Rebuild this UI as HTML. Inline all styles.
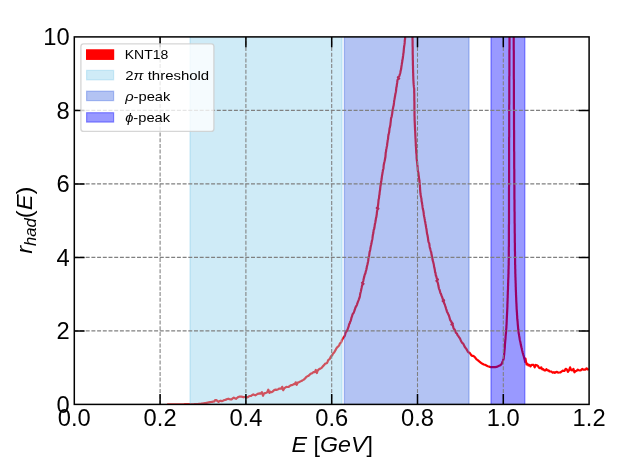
<!DOCTYPE html>
<html><head><meta charset="utf-8"><title>r_had(E)</title>
<style>
html,body{margin:0;padding:0;background:#fff;}
body{width:620px;height:465px;overflow:hidden;font-family:"Liberation Sans",sans-serif;}
svg{display:block;}
text{font-family:"Liberation Sans",sans-serif;fill:#000;}
</style></head><body>
<svg width="620" height="465" viewBox="0 0 620 465">
<rect width="620" height="465" fill="#fff"/>
<defs><clipPath id="ax"><rect x="74.3" y="36.9" width="514.8" height="367.5"/></clipPath></defs>

<g clip-path="url(#ax)">
<path d="M167.1,404.5 168.2,404.5 169.3,404.5 170.4,404.5 171.5,404.5 172.6,404.5 173.7,404.5 174.8,404.5 175.9,404.5 177,404.5 178.1,404.5 179.2,404.5 180.3,404.5 181.4,404.5 182.5,404.5 183.6,404.5 184.7,404.4 185.8,404.4 186.9,404.4 188,404.4 189.1,404.4 190.2,404.4 191.3,404.4 192.4,404.3 193.5,404.3 194.6,404.2 195.7,404.1 196.8,404.1 197.9,404 199,403.9 200.1,403.8 201.2,403.7 202.3,403.5 203.3,403.3 204.4,403.2 205.5,403 206.6,402.8 207.7,402.6 208.8,402.4 209.9,402.2 210.9,402 212,401.8 213.1,401.6 214.2,401.5 215.3,400 216.4,400 217.5,401.2 218.5,401.9 219.6,401.1 220.7,400.7 221.8,401.1 222.9,400.7 224,400.1 225.1,399.9 226.2,399.6 227.2,399 228.3,398.7 229.4,399.1 230.5,399.3 231.6,399.3 232.7,398.4 233.8,397.6 234.9,398.3 236,398.8 237,398 238.1,397.1 239.2,396.7 240.3,396.7 241.4,396.7 242.5,396.9 243.6,397.3 244.6,397 245.7,396.9 246.8,397.4 247.9,397.1 249,396.3 250,396 251.1,395.9 252.2,395 253.3,394.4 254.4,395 255.4,395.3 256.5,394.6 257.6,393.9 258.7,393.6 259.7,393.4 260.8,393.6 261.9,392.1 263,395.8 264,393.6 265.1,393.1 266.2,392.7 267.3,392.2 268.3,389.7 269.4,392.9 270.5,391.7 271.5,392.2 272.6,391.6 273.7,390.5 274.7,389.8 275.8,389.6 276.9,389.8 277.9,389.4 279,388.7 280.1,388.6 281.1,388.7 282.2,386.8 283.2,390.3 284.3,388.4 285.4,387.5 286.4,386.9 287.5,387 288.5,387 289.6,386.2 290.6,385.3 291.7,385.1 292.7,384.9 293.7,384.2 294.7,384.2 295.7,382.3 296.7,384.9 297.7,382.5 298.7,382.4 299.6,381.9 300.5,381.3 301.5,381 302.4,380.4 303.3,379.9 304.3,379.3 305.2,378.3 306.1,377.2 307,376.5 308,376.1 308.9,375.5 309.9,374.4 310.9,373.6 311.8,373.5 312.8,372.6 313.8,372 314.8,372.1 315.8,369.9 316.8,373 317.7,370.6 318.7,369.5 319.6,368.9 320.4,368.6 321.3,368.1 322.1,367.3 322.8,366.4 323.6,365.6 324.3,364.8 325,363.8 325.7,363.5 326.3,363.4 327,363 327.6,361.7 328.3,360 328.9,359.5 329.6,359.2 330.2,357.9 330.9,356.4 331.5,356 332.2,355.3 332.9,353.7 333.5,353.1 334.2,352.5 334.8,351.3 335.5,350.2 336.1,348.9 336.8,347.8 337.4,347.1 338,346.6 338.7,346 339.3,345.1 339.8,343.7 340.4,343 341,342.6 341.5,341.3 342,339.8 342.5,339.1 343.1,338.2 343.6,337.4 344.2,336.8 344.7,335.9 345.2,334.3 345.7,332.4 346.2,331.6 346.6,331.4 347.1,330.7 347.5,329.8 347.9,328.5 348.3,327.3 348.7,326.4 349,324.8 349.4,323.7 349.8,323.2 350.1,321.9 350.5,321.2 350.8,320.6 351.2,318.9 351.5,317.5 351.9,316.7 352.3,315.2 352.7,314 353.1,313.6 353.5,313.1 353.9,312.2 354.3,311.1 354.8,309.7 355.2,308.4 355.6,307.2 356.1,306.5 356.5,305.8 356.9,304.8 357.3,303.7 357.7,302.4 358.1,301.3 358.5,300.4 358.8,299.6 359.1,298.7 359.4,298 359.7,297.1 360,295.5 360.2,293.9 360.5,292.7 360.7,292 360.9,291.2 361.2,289.8 361.4,288.8 361.6,288 361.8,286.7 362.1,285.6 362.3,284.9 363.5,283.8 362,282.8 363,282.1 363.3,280.9 363.6,279.2 363.9,277.9 364.2,277.1 364.5,275.6 364.8,274.4 365.1,274 365.4,273.3 365.7,271.8 366,270.7 366.3,269.8 366.6,268.6 366.8,267.1 367.1,265.8 367.3,265 367.5,264.2 367.7,263.2 367.9,262.3 368.1,261.4 368.3,260.3 368.4,258.7 368.6,257.3 368.8,256.6 369,256.1 369.2,255.3 369.4,253.7 369.6,251.9 369.8,251.4 370,250.9 370.3,249.4 370.5,247.9 370.7,246.9 370.9,245.9 371.1,245 371.3,244.2 371.5,243.3 371.7,241.9 372,240.5 372.2,239.7 372.4,238.7 372.6,237.2 372.8,235.5 373,234.3 373.2,233.8 373.4,232.5 373.6,230.6 373.8,229.6 374,229.4 374.2,228.9 374.4,227.8 374.6,226.4 374.8,224.8 375,223.7 375.1,223.4 375.3,222.5 375.5,221.4 375.7,220.3 375.9,218.7 376.1,217.6 376.3,217.4 376.4,216.6 376.6,215.2 376.8,214 376.9,212.5 377.1,211.3 377.3,209.9 378.4,208.5 376.8,208 377.8,207.3 377.9,205.9 378.1,205 378.2,203.9 378.4,202 378.5,200.5 378.6,199.6 378.8,199 378.9,198.6 379.1,197.3 379.2,195.6 379.3,195.1 379.5,194.7 379.6,192.9 379.8,191.3 379.9,190.7 380.1,189.8 380.2,188.4 380.4,186.7 380.5,185.7 380.7,185.1 380.8,183.8 381,182.5 381.1,182.1 381.3,181.3 381.5,179.7 381.7,178.5 381.8,177.4 382,175.9 382.2,174.7 382.4,173.8 382.5,172.7 382.7,171.7 382.9,170.5 383.1,169.6 383.3,169.1 383.5,168.2 383.6,166.3 383.8,164.7 384,163.7 384.2,162.7 384.4,161.9 384.5,161.4 384.7,160.9 384.9,159.7 385.1,158.5 385.2,158.2 385.4,157.1 385.6,154.6 385.7,152.6 385.9,152.1 386.1,151 386.2,149.5 386.4,148.8 386.6,148 386.7,146.9 386.9,146.3 387.1,145.4 387.2,143.9 387.4,142.6 387.6,141.3 387.7,140.1 387.9,139.5 388.1,138.5 388.2,136.7 388.4,135.3 388.6,134.6 388.8,133.6 388.9,133.1 389.1,132.6 389.3,130.9 389.5,128.9 389.6,128 389.8,127.7 390,126.8 390.2,125.8 390.4,124.8 390.5,123.3 390.7,121.8 390.9,120 391.1,118.2 391.3,117.6 391.4,117.4 391.6,116.7 391.8,115.7 392,114.6 392.2,113.6 392.3,112.5 392.5,111 392.7,109.6 392.9,108.6 393.1,108.1 393.2,107.2 393.4,106.3 393.6,105.7 393.8,104.4 394,102.9 394.1,101.5 394.3,100.1 394.5,99.2 394.7,98.1 394.9,96.8 395.1,96.1 395.2,95.1 395.4,94 395.6,93 395.8,92.3 396,91.2 396.2,89.2 396.3,87.7 396.5,87.2 396.7,86.5 396.8,85.1 397,83.8 397.2,82.5 397.4,80.8 397.6,79.7 397.9,79.2 399.2,78.5 397.9,77.3 399.3,76.2 399.6,75.2 399.9,74.1 400.2,73.3 400.4,72.3 400.6,71.1 400.8,70.3 401,69.6 401.2,68.5 401.3,67.5 401.5,66.2 401.7,64.9 401.8,64 402,63.1 402.2,61.8 402.4,60.5 402.5,59.5 402.7,59.1 402.8,58.2 403,56.5 403.2,55.2 403.3,54.2 403.4,53.3 403.6,52.5 403.7,50.8 403.9,48.7 404,47.6 404.1,47 404.2,46.1 404.4,44.9 404.5,44 404.6,43.7 404.7,42.4 404.8,40.2 405,39.3 405.1,38.9 405.1,37.7 405.2,36.2 405.3,34.7 405.4,33.9 405.5,33.6 405.6,32.8 405.7,31.2 405.7,29.7 405.8,28.8 405.9,27.9 406,26.9 406,25.7 406.1,24.3 406.2,23.2 406.2,22.1 406.3,21.6 406.3,20.5 406.3,18.9 406.4,17.7 406.4,16.7 406.4,16.2 406.5,15.2 406.5,13.8 406.6,12.7 406.6,11.3 406.6,9.8 406.7,8.8 406.7,7.8 406.7,6.8 406.7,5.7 406.8,4.7 411.7,4.2 411.7,5.3 411.7,6.2 411.7,7.2 411.8,8.8 411.8,10 411.8,11 411.8,12.3 411.9,13.5 411.9,14.2 411.9,15.2 412,16.6 412,17.4 412,17.9 412,18.9 412.1,20.3 412.1,21.4 412.1,22.7 412.2,24.2 412.2,25.5 412.2,26.8 412.3,27.6 412.3,28.3 412.3,29.3 412.4,30.6 412.4,32 412.4,33 412.4,34 412.5,35.4 412.5,36.3 412.5,36.8 412.5,37.8 412.5,39.4 412.6,40.8 412.6,41.7 412.6,42.5 412.6,43.4 412.6,44.8 412.6,46.1 412.7,47.2 412.7,48.1 412.7,49.3 412.7,50.6 412.7,51.6 412.7,52.6 412.7,54.1 412.8,55.5 412.8,56.5 412.8,57.2 412.8,57.9 412.8,58.9 412.8,60 412.9,60.7 412.9,61.9 412.9,63.7 412.9,65.1 413,65.9 413,66.3 413,67.2 413,68.6 413.1,70.2 413.1,71.4 413.1,72.3 413.2,73.2 413.2,74.7 413.2,75.9 413.3,76.7 413.3,78.1 413.4,79.9 413.4,80.6 413.5,81.3 413.5,82.4 413.6,83.3 413.7,84.7 413.9,86.7 414,87.5 414.1,87.7 414.2,89.3 414.2,90.9 414.2,91.4 414.2,92.6 414.3,93.9 414.3,94.6 414.3,95.6 414.3,96.3 414.3,97 414.3,98.6 414.3,100.1 414.4,101.8 414.4,103.3 414.4,103.9 414.4,104.4 414.4,105.6 414.4,106.9 414.4,107.8 414.4,108.2 414.4,108.7 414.4,110 414.5,111.9 414.5,113.1 414.5,113.9 414.5,114.8 414.5,115.9 414.6,117 414.6,118.2 414.6,119.8 414.7,121.4 414.7,122.2 414.8,122.7 414.8,124 414.9,125.7 414.9,126.8 415,127.8 415,129.2 415.1,130.2 415.1,130.4 415.2,131 415.2,132.2 415.3,133.8 415.3,135 415.4,135.7 415.4,137 415.5,138.5 415.6,139.5 415.6,140.6 415.7,141.9 415.7,142.4 415.8,143.7 415.8,145.7 415.9,146.4 416,146.8 416,147.9 416.1,149.4 416.2,151 416.2,152.2 416.3,153 416.4,153.5 416.5,154.3 416.6,156.1 416.6,158 416.7,158.9 416.8,159.6 416.9,160.6 417,161.5 417.1,162.2 417.2,163.1 417.3,164.4 417.5,165.8 417.6,167.1 417.7,168.7 417.8,170.3 417.9,171.1 418.1,171.3 418.2,171.9 418.4,172.9 418.5,174.1 418.7,175.6 418.9,177 419,178.1 419.2,179.1 419.3,180.1 419.4,181 419.6,182.2 419.7,184.1 419.8,185 419.9,185.2 419.9,186 420,187.3 420.1,189 420.2,190.6 420.3,191.9 420.4,192.9 420.5,194 420.7,195.1 420.8,196 421,196.8 421.1,197.2 421.3,197.9 421.5,199.7 421.6,201.4 421.8,201.9 422,202.8 422.2,204.4 422.4,205.3 422.5,206.4 422.7,208 422.9,209.1 423.1,209.8 423.3,210.6 423.5,211.8 423.7,213.1 423.8,214.4 424,215.8 424.2,216.7 424.4,217.5 424.5,218.2 424.7,219.1 424.9,220.5 425.1,221.7 425.3,222.3 425.4,223.2 425.6,224.3 425.8,225.3 426,226.8 426.2,227.9 426.4,228.7 426.6,230.1 426.8,231.8 427,233.1 427.1,233.9 427.3,234.5 427.5,235.3 427.7,236.5 428,238.3 428.2,240.1 428.4,241.2 428.6,242.1 428.8,242.5 429,242.7 429.3,243.7 429.5,245.3 429.7,247 430,248.2 430.2,248.5 430.4,249.5 430.7,250.7 430.9,251.4 431.2,252.2 431.4,253.6 431.6,254.9 431.9,256 432.1,257.3 432.4,258.5 432.6,259.8 432.8,260.9 433,261.2 433.2,262 433.5,263.3 433.7,264.1 433.9,265.1 434.1,266.6 434.3,267.6 434.5,268.3 434.8,269.7 435,271.5 435.2,272.4 435.5,272.9 435.7,274.6 435.9,275.7 436.2,275.9 436.4,276.8 436.7,278.3 437.9,279.6 436.4,280.8 437.5,282 437.8,282.9 438.1,284 438.3,285.3 438.6,286.8 438.9,288.3 439.2,289.2 439.5,289.6 439.8,290.7 440.2,292.3 440.5,293.2 440.8,293.5 441.1,294.3 441.4,295.4 441.8,296.3 442.1,297 442.4,297.9 442.8,299.2 444.1,300.3 442.7,301 443.9,302.1 444.2,303.4 444.6,304.1 445,305 445.3,306.1 445.7,307.4 446.1,308.8 446.5,309.9 446.9,311.4 447.3,312.4 447.7,312.8 448.1,313.8 448.5,314.8 448.9,315.6 449.3,316.8 449.7,318.2 450.1,319.7 450.5,320.6 451,321 451.4,322 452.8,323.7 451.4,324.4 452.7,324.9 453.1,326.4 453.5,327.9 454,328.9 454.5,329.3 454.9,330 455.4,331.4 455.9,332.8 456.4,333.1 456.9,333.5 457.4,334.8 457.9,335.6 458.5,336.3 459,337.2 459.6,337.9 460.2,339 460.7,340.2 461.3,341.5 462,342.6 462.6,343.2 463.3,343.8 464,345.2 464.7,346.8 465.4,347.7 466,348.4 466.6,349.4 467.3,350.6 467.9,351.8 468.6,352.5 469.3,352.6 470,353.3 470.8,354.5 471.6,355.5 472.4,355.9 473.2,355.9 474,356.4 474.8,357.1 475.7,358.3 476.5,359.3 477.4,359.9 478.3,360.6 479.2,361.4 480.1,362.1 481,362.8 481.9,363.5 482.9,364 483.8,364.5 484.8,364.8 485.8,365.1 486.8,365.8 487.8,366.2 488.8,366.5 489.9,366.9 491,367.1 492.1,367 493.2,367.1 494.3,367.2 495.3,367.1 496.5,366.9 497.6,366.4 498.6,366 499.6,365.6 500.3,365.2 501,364.7 501.7,363.9 502.2,362.5 502.8,361.1 503.2,360 503.5,359.2 503.7,358.6 503.8,357.4 504,355.9 504.1,354.9 504.2,354.1 504.3,352.9 504.4,351.7 504.5,350.5 504.6,349.7 504.7,348.7 504.8,347.3 504.9,345.9 504.9,344.8 505,343.8 505.1,342.8 505.2,341.6 505.3,340.5 505.4,339.6 505.5,338.4 505.6,336.7 505.7,335.4 505.8,334.4 505.9,333.4 506,332.4 506.1,331.7 506.1,330.7 506.2,329.4 506.3,328.3 506.4,327.3 506.4,326.3 506.5,325.2 506.6,324 506.6,322.8 506.7,321.7 506.7,320.5 506.8,319 506.8,317.9 506.9,317.2 506.9,316.2 507,315.2 507,314.2 507.1,313.2 507.1,312.3 507.2,311.2 507.2,309.9 507.3,309 507.3,308.3 507.4,306.7 507.4,305.1 507.4,304.3 507.5,303.2 507.5,301.8 507.6,300.8 507.6,299.7 507.6,298.7 507.7,297.7 507.7,296.5 507.7,295.4 507.8,294.2 507.8,293.1 507.8,292 507.9,291.2 507.9,290.4 508,289 508,287.5 508,286.4 508.1,285.4 508.1,284.4 508.1,283.4 508.2,282.3 508.2,281.1 508.2,280 508.3,279.2 508.3,278.1 508.4,276.8 508.4,275.6 508.4,274.7 508.5,273.9 508.5,272.7 508.5,271.2 508.5,269.9 508.6,268.6 508.6,267.6 508.6,266.8 508.6,266.1 508.7,265 508.7,263.5 508.7,262.2 508.7,261.3 508.7,260.3 508.8,259.3 508.8,258.3 508.8,257.3 508.8,256.2 508.8,255 508.8,253.8 508.8,252.7 508.8,251.5 508.8,250.6 508.8,249.8 508.8,248.4 508.8,247 508.9,246.3 508.9,245.4 508.9,244.2 508.9,242.9 508.9,241.7 508.9,240.4 508.9,239.4 508.9,238.5 508.9,237.2 508.9,235.9 508.9,235 508.9,234.4 508.9,233.2 508.9,231.7 508.9,230.6 508.9,229.7 508.9,228.5 508.9,227.1 508.9,226.2 508.9,225.1 509,223.8 509,222.8 509,222.1 509,221.2 509,219.9 509,218.5 509,217.3 509,216.4 509,215.3 509,213.8 509,212.8 509,211.8 509,210.4 509,209.5 509,208.5 509,207.1 509,206.1 509,205.4 509,204.3 509,203 509,202.1 509,201.2 509,200.3 509,199.2 509,197.9 509,196.4 509,194.9 509,193.6 509,192.7 509,192 509,191 509,189.5 509,188.3 509,187.1 509.1,186.2 509.1,185.7 509.1,184.8 509.1,183.8 509.1,182.6 509.1,180.8 509.1,179.7 509.1,179.1 509.1,177.8 509.1,176.5 509.1,175.6 509.1,174.5 509.1,173.2 509.1,172.1 509.1,171.2 509.1,170.2 509.1,169.1 509.1,167.9 509.1,166.7 509.1,165.8 509.1,164.9 509.1,163.8 509.1,162.4 509.1,161.1 509.1,160.1 509.1,159.1 509.1,157.9 509.1,156.7 509.1,155.6 509.1,154.8 509.1,153.6 509.1,152.2 509.1,150.9 509.1,150 509.1,149.3 509.1,148 509.1,146.5 509.1,145.7 509.1,145.2 509.1,144.4 509.1,143 509.1,141.4 509.1,140.5 509.1,139.6 509.1,138.2 509.2,136.8 509.2,135.6 509.2,134.6 509.2,134 509.2,133 509.2,131.8 509.2,130.8 509.2,129.9 509.2,128.8 509.2,127.3 509.2,125.9 509.2,124.8 509.2,124 509.2,122.6 509.2,121.2 509.2,120.3 509.2,119.6 509.2,118.7 509.2,117.5 509.2,116 509.2,114.8 509.2,113.7 509.2,112.5 509.2,111.7 509.2,110.8 509.2,109.5 509.2,108 509.2,107.1 509.2,106.3 509.2,105.2 509.3,104.2 509.3,103.2 509.3,101.8 509.3,100.5 509.3,99.5 509.3,98.4 509.3,97.4 509.3,96.3 509.3,95.1 509.3,94 509.3,92.8 509.3,91.6 509.3,90.6 509.3,89.4 509.3,88.1 509.3,87.3 509.3,86.3 509.3,85 509.3,83.8 509.3,83.2 509.3,82.4 509.3,81.3 509.3,79.9 509.3,78.5 509.3,77.5 509.3,76.6 509.4,75.8 509.4,74.6 509.4,73.2 509.4,71.8 509.4,70.6 509.4,69.8 509.4,69.1 509.4,68 509.4,66.6 509.4,65.3 509.4,64.4 509.4,63.5 509.4,62.8 509.4,61.9 509.4,60.6 509.4,59.2 509.4,58 509.4,57.3 509.4,56.2 509.4,54.8 509.4,53.4 509.4,52.1 509.4,51 509.4,50 509.5,49.1 509.5,48.2 509.5,47.3 509.5,46.1 509.5,44.8 509.5,43.9 509.5,42.9 509.5,41.6 509.5,40.3 509.5,38.8 509.5,37.7 509.5,37 509.5,36.3 509.5,35.8 509.5,34.5 509.5,32.4 509.5,31 509.5,30.4 509.5,29.8 509.5,28.7 509.5,27.1 509.5,25.6 509.6,24.2 509.6,22.9 509.6,22 509.6,21.6 509.6,20.6 509.6,19.2 509.6,18.4 509.6,17.6 509.6,16.3 509.6,15 509.6,14.1 509.6,13 509.6,11.7 509.6,10.4 509.6,9.3 509.6,8.3 509.6,7.3 509.6,6.6 509.6,5.6 509.7,4.6 513.6,4.7 513.6,5.5 513.6,6.8 513.6,8.3 513.6,9.3 513.6,9.9 513.6,10.6 513.6,11.6 513.6,13 513.6,14.2 513.6,15 513.6,16.1 513.6,17.3 513.6,18.1 513.6,19.2 513.6,20.9 513.6,22.3 513.6,23.5 513.6,24.8 513.6,26 513.7,26.9 513.7,27.9 513.7,29.4 513.7,30.6 513.7,31.3 513.7,32 513.7,32.9 513.7,33.7 513.7,34.7 513.7,35.7 513.7,37.2 513.7,38.8 513.7,40 513.7,41.2 513.7,42.1 513.7,43 513.7,44.1 513.7,45.3 513.7,46.5 513.7,47.9 513.7,49.1 513.7,49.8 513.8,50.6 513.8,52 513.8,53.4 513.8,54.4 513.8,55.4 513.8,56.6 513.8,57.4 513.8,58.1 513.8,59.7 513.8,61.1 513.8,61.9 513.8,62.8 513.8,64 513.8,65 513.8,65.9 513.8,67.2 513.8,68.6 513.8,69.9 513.8,70.8 513.8,71.7 513.8,72.8 513.8,74 513.8,75.1 513.8,76.1 513.8,76.9 513.8,77.8 513.8,78.9 513.9,79.9 513.9,81.2 513.9,82.4 513.9,83.2 513.9,84.4 513.9,85.9 513.9,87 513.9,87.9 513.9,88.8 513.9,89.9 513.9,91.4 513.9,92.9 513.9,93.7 513.9,94.4 513.9,95.8 513.9,97.3 513.9,98.2 513.9,98.9 513.9,100.3 513.9,101.7 513.9,102.5 513.9,103.4 513.9,104.3 513.9,105.3 513.9,106.7 513.9,108.3 514,109.3 514,110 514,110.9 514,111.8 514,112.9 514,114.6 514,116.3 514,117.2 514,118.1 514,119.3 514,120.4 514,121.2 514,122.1 514,123.3 514,124.7 514,125.9 514,126.5 514,127.4 514,128.9 514,129.8 514.1,130.5 514.1,131.6 514.1,132.8 514.1,134.1 514.1,135.6 514.1,136.8 514.1,137.7 514.1,138.7 514.1,139.8 514.1,141.3 514.1,142.5 514.1,143.1 514.1,144.3 514.1,145.9 514.1,146.8 514.1,147.2 514.1,148.1 514.1,149.6 514.1,151 514.2,151.9 514.2,152.9 514.2,154.1 514.2,155.5 514.2,156.6 514.2,157.3 514.2,158.3 514.2,159.5 514.2,160.4 514.2,161.6 514.2,163 514.2,164.3 514.2,165.5 514.2,166.6 514.2,167.5 514.2,168.5 514.3,169.5 514.3,170.6 514.3,171.8 514.3,172.7 514.3,173.7 514.3,175.2 514.3,176.2 514.3,176.7 514.3,177.7 514.3,179.3 514.3,180.8 514.3,182.1 514.3,183.1 514.3,184 514.3,184.9 514.4,185.8 514.4,187.1 514.4,188.4 514.4,189.3 514.4,190.3 514.4,191.6 514.4,192.9 514.4,194 514.4,194.9 514.4,196 514.4,196.8 514.4,197.7 514.4,199 514.5,200.2 514.5,201.4 514.5,202.6 514.5,204 514.5,205.3 514.5,206.2 514.5,207 514.5,208.2 514.5,209.3 514.5,210.1 514.5,211 514.6,212.1 514.6,213.6 514.6,214.9 514.6,216 514.6,216.9 514.6,218 514.6,219 514.6,220.3 514.6,221.8 514.6,222.9 514.7,223.9 514.7,224.6 514.7,225.5 514.7,226.6 514.7,227.9 514.7,228.8 514.7,229.6 514.7,230.9 514.7,232 514.7,232.7 514.8,234 514.8,235.6 514.8,236.8 514.8,237.5 514.8,238.6 514.8,240.3 514.8,241.6 514.8,242.3 514.9,243.1 514.9,244.5 514.9,245.7 514.9,246.6 514.9,247.5 514.9,248.7 514.9,249.9 514.9,250.9 515,251.8 515,252.6 515,253.8 515,255.6 515,257 515,258.1 515.1,259 515.1,259.8 515.1,260.8 515.1,262 515.1,263.2 515.1,264.4 515.2,265 515.2,266 515.2,267.2 515.2,268.4 515.3,269.5 515.3,270.5 515.3,272 515.3,273.3 515.4,274.4 515.4,275.8 515.4,277 515.5,277.7 515.5,278.7 515.5,279.8 515.6,280.7 515.6,281.6 515.6,282.7 515.7,283.9 515.7,285.1 515.7,286.4 515.8,287.5 515.8,288.4 515.8,289.5 515.9,290.6 515.9,291.7 516,293 516,294 516,294.8 516.1,295.7 516.1,296.9 516.2,297.9 516.2,299.3 516.3,301 516.3,302.1 516.4,302.6 516.4,303.4 516.5,304.7 516.5,305.9 516.6,306.9 516.6,308 516.7,309.5 516.8,310.7 516.8,311.2 516.9,312.1 517,313.5 517,314.6 517.1,315.5 517.2,316.7 517.2,317.9 517.3,319 517.4,320 517.5,320.8 517.6,321.7 517.7,323.2 517.8,324.6 517.9,325.6 518,326.6 518.1,327.8 518.2,328.8 518.3,329.8 518.5,331 518.6,332.6 518.8,333.9 519,334.5 519.1,335.4 519.3,336.6 519.5,337.8 519.7,339.2 519.9,340.3 520.1,341.1 520.3,341.9 520.5,342.9 520.7,344.1 520.9,345.1 521.2,346.2 521.4,347.3 521.7,348.2 521.9,349.3 522.2,350.7 522.5,351.8 522.7,352.8 523,353.8 523.3,354.8 523.7,356 524,357.3 524.3,358.5 524.7,359.6 525.1,361.9 525.5,358.7 526,361.6 526.6,364.5 527.5,363.9 528.4,365.4 529.5,364.9 530.5,366.4 531.6,364.8 532.6,364.8 533.6,364.9 534.7,367.4 535.8,364.9 536.8,365.3 537.9,365.9 539,367.8 540.1,368.3 541.2,367.3 542.2,369.3 543.3,369.1 544.3,370.4 545.3,370.5 546.4,369.2 547.4,370.4 548.5,370.4 549.5,371.4 550.6,371.5 551.6,371.7 552.7,372.7 553.8,372.2 554.8,372.9 555.9,372.1 557,371.8 558.1,372.6 559.2,372.5 560.3,372.5 561.4,371.7 562.5,370.7 563.6,370.9 564.6,370.8 565.7,368.8 566.8,369.4 567.9,371.9 569,370.3 570.1,367.4 571.2,370.1 572.3,370.3 573.4,368.8 574.5,372.3 575.6,371.1 576.7,370.7 577.8,369.6 578.9,370.2 580,370.5 581.1,370.1 582.2,368.9 583.3,369.7 584.4,369.5 585.5,369.6 586.6,368.3 587.7,369.5 588.8,369.2" fill="none" stroke="#ff0000" stroke-width="2.2" stroke-linejoin="round"/>
<rect x="190.1" y="31.9" width="151.9" height="377.5" fill="#87ceeb" fill-opacity="0.4" stroke="#87ceeb" stroke-opacity="0.4" stroke-width="1.35"/>
<rect x="344.4" y="31.9" width="124.6" height="377.5" fill="#4169e1" fill-opacity="0.4" stroke="#4169e1" stroke-opacity="0.4" stroke-width="1.35"/>
<rect x="491.0" y="31.9" width="33.8" height="377.5" fill="#0000ff" fill-opacity="0.4" stroke="#0000ff" stroke-opacity="0.4" stroke-width="1.35"/>
<g stroke="#808080" stroke-width="1.08" stroke-dasharray="3.98 1.72" fill="none">
<path d="M160.1,404.4V36.9"/>
<path d="M245.9,404.4V36.9"/>
<path d="M331.7,404.4V36.9"/>
<path d="M417.5,404.4V36.9"/>
<path d="M503.3,404.4V36.9"/>
<path d="M74.3,330.9H589.1"/>
<path d="M74.3,257.4H589.1"/>
<path d="M74.3,183.9H589.1"/>
<path d="M74.3,110.4H589.1"/>
</g>
</g>
<g stroke="#000" stroke-width="1.5" fill="none">
<path d="M160.1,404.4v-10.3M160.1,36.9v10.3"/>
<path d="M245.9,404.4v-10.3M245.9,36.9v10.3"/>
<path d="M331.7,404.4v-10.3M331.7,36.9v10.3"/>
<path d="M417.5,404.4v-10.3M417.5,36.9v10.3"/>
<path d="M503.3,404.4v-10.3M503.3,36.9v10.3"/>
<path d="M74.3,330.9h10.3M589.1,330.9h-10.3"/>
<path d="M74.3,257.4h10.3M589.1,257.4h-10.3"/>
<path d="M74.3,183.9h10.3M589.1,183.9h-10.3"/>
<path d="M74.3,110.4h10.3M589.1,110.4h-10.3"/>
</g>
<rect x="74.3" y="36.9" width="514.8" height="367.5" fill="none" stroke="#000" stroke-width="1.5"/>
<g opacity="0.999">
<text transform="translate(74.3,425.7) scale(1.010,1)" font-size="23.5" text-anchor="middle">0.0</text>
<text transform="translate(160.1,425.7) scale(1.010,1)" font-size="23.5" text-anchor="middle">0.2</text>
<text transform="translate(245.9,425.7) scale(1.010,1)" font-size="23.5" text-anchor="middle">0.4</text>
<text transform="translate(331.7,425.7) scale(1.010,1)" font-size="23.5" text-anchor="middle">0.6</text>
<text transform="translate(417.5,425.7) scale(1.010,1)" font-size="23.5" text-anchor="middle">0.8</text>
<text transform="translate(503.3,425.7) scale(1.010,1)" font-size="23.5" text-anchor="middle">1.0</text>
<text transform="translate(589.1,425.7) scale(1.010,1)" font-size="23.5" text-anchor="middle">1.2</text>
<text transform="translate(69.7,412.7) scale(1.010,1)" font-size="23.5" text-anchor="end">0</text>
<text transform="translate(69.7,339.2) scale(1.010,1)" font-size="23.5" text-anchor="end">2</text>
<text transform="translate(69.7,265.7) scale(1.010,1)" font-size="23.5" text-anchor="end">4</text>
<text transform="translate(69.7,192.2) scale(1.010,1)" font-size="23.5" text-anchor="end">6</text>
<text transform="translate(69.7,118.7) scale(1.010,1)" font-size="23.5" text-anchor="end">8</text>
<text transform="translate(69.7,45.2) scale(1.010,1)" font-size="23.5" text-anchor="end">10</text>
<text transform="translate(332.3,452.3) scale(1.02,1)" font-size="22.8" text-anchor="middle"><tspan font-style="italic">E</tspan> [<tspan font-style="italic">GeV</tspan>]</text>
<text transform="translate(31.8,220.2) rotate(-90) scale(1.04,1)" font-size="22.8" text-anchor="middle"><tspan font-style="italic">r</tspan><tspan font-style="italic" font-size="16" dy="4.3">had</tspan><tspan dy="-4.3">(</tspan><tspan font-style="italic">E</tspan>)</text>
<rect x="80.9" y="43.8" width="133" height="87.6" rx="2.7" fill="#fff" fill-opacity="0.8" stroke="#ccc" stroke-opacity="0.8" stroke-width="1.35"/>
<rect x="86.6" y="49.9" width="27" height="9.4" fill="#ff0000" fill-opacity="1" stroke="#ff0000" stroke-opacity="1" stroke-width="1.2"/>
<rect x="86.6" y="70.4" width="27" height="9.4" fill="#87ceeb" fill-opacity="0.4" stroke="#87ceeb" stroke-opacity="0.4" stroke-width="1.2"/>
<rect x="86.6" y="91.2" width="27" height="9.4" fill="#4169e1" fill-opacity="0.4" stroke="#4169e1" stroke-opacity="0.4" stroke-width="1.2"/>
<rect x="86.6" y="112.7" width="27" height="9.4" fill="#0000ff" fill-opacity="0.4" stroke="#0000ff" stroke-opacity="0.4" stroke-width="1.2"/>
<text transform="translate(124.7,59) scale(1.03,1)" font-size="13.6">KNT18</text>
<text transform="translate(125.2,79.6) scale(1.1,1)" font-size="13.6">2<tspan font-style="italic">π</tspan> threshold</text>
<text transform="translate(125.2,100.6) scale(1.08,1)" font-size="13.6"><tspan font-style="italic">ρ</tspan>-peak</text>
<text transform="translate(125.2,121.9) scale(1.08,1)" font-size="13.6"><tspan font-style="italic">ϕ</tspan>-peak</text>
</g>
</svg>
</body></html>
